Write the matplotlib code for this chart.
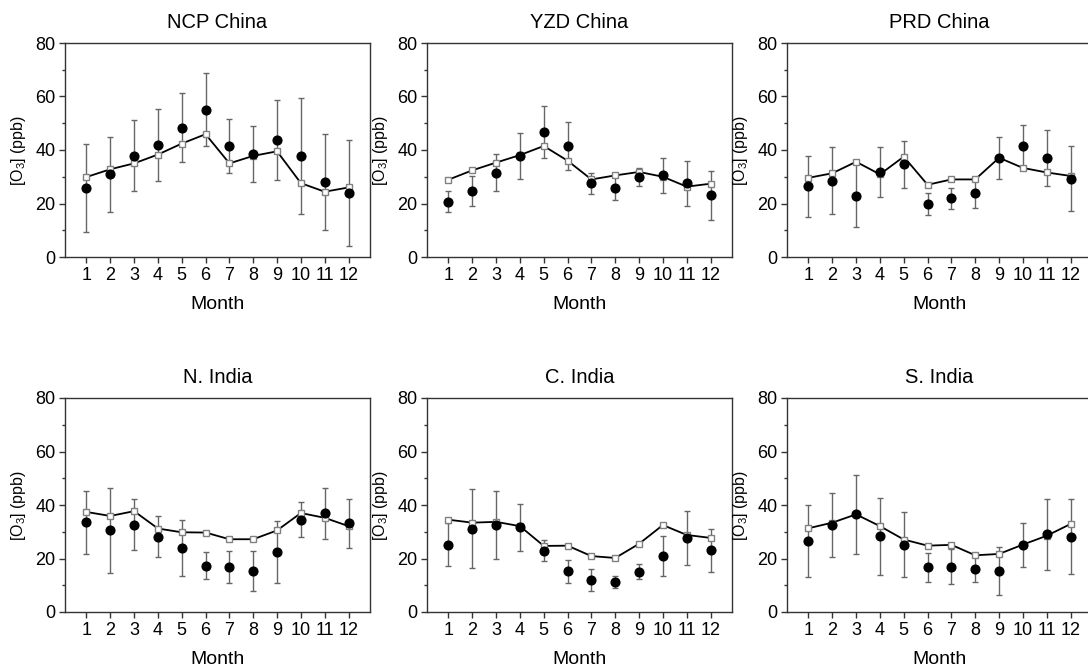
import matplotlib
matplotlib.use("Agg")
import matplotlib.pyplot as plt
from matplotlib.ticker import MultipleLocator

plt.rcParams['font.family'] = ['Liberation Sans', 'DejaVu Sans']
plt.rcParams['mathtext.fontset'] = 'custom'
plt.rcParams['mathtext.rm'] = 'Liberation Sans'
plt.rcParams['mathtext.it'] = 'Liberation Sans:italic'

months = list(range(1, 13))
regions = ["NCP China", "YZD China", "PRD China", "N. India", "C. India", "S. India"]

# observed monthly means (dots), their std (error bars) and model means (squares)
ncpObs = [25.9, 31.0, 37.9, 41.9, 48.4, 55.0, 41.5, 38.4, 43.6, 37.8, 28.0, 24.0]
ncpErr = [16.4, 14.0, 13.4, 13.4, 13.0, 13.6, 10.0, 10.4, 15.0, 21.6, 18.0, 19.9]
ncpModel = [29.9, 32.8, 35.0, 38.3, 42.4, 45.9, 35.0, 37.8, 39.5, 27.6, 24.4, 26.0]

yzdObs = [20.6, 24.5, 31.5, 37.8, 46.6, 41.4, 27.6, 25.9, 29.9, 30.5, 27.5, 23.0]
yzdErr = [3.9, 5.6, 7.0, 8.6, 9.7, 9.0, 3.9, 4.6, 3.5, 6.6, 8.5, 9.2]
yzdModel = [28.9, 32.4, 35.3, 38.1, 41.5, 36.0, 29.0, 30.5, 31.8, 30.0, 26.3, 27.4]

prdObs = [26.4, 28.5, 22.9, 31.8, 34.6, 19.9, 21.9, 24.0, 37.0, 41.6, 36.9, 29.3]
prdErr = [11.5, 12.5, 11.8, 9.2, 8.7, 4.1, 3.9, 5.6, 8.0, 7.8, 10.5, 12.2]
prdModel = [29.6, 31.3, 35.6, 30.9, 37.5, 27.0, 29.0, 29.0, 37.1, 33.3, 31.6, 30.3]

ninObs = [33.6, 30.5, 32.7, 28.2, 23.8, 17.3, 16.8, 15.2, 22.4, 34.5, 36.9, 33.1]
ninErr = [11.8, 15.9, 9.7, 7.8, 10.5, 5.0, 5.9, 7.5, 11.6, 6.6, 9.5, 9.2]
ninModel = [37.4, 35.9, 37.7, 31.2, 29.8, 29.7, 27.2, 27.2, 30.5, 37.0, 35.2, 32.1]

cinObs = [25.2, 31.1, 32.7, 31.7, 22.9, 15.2, 11.9, 11.2, 15.0, 20.9, 27.7, 23.1]
cinErr = [7.9, 14.8, 12.7, 8.8, 3.9, 4.3, 4.2, 2.3, 2.8, 7.6, 10.2, 8.0]
cinModel = [34.5, 33.4, 33.7, 32.1, 24.7, 24.8, 20.9, 20.2, 25.5, 32.5, 28.8, 27.7]

sinObs = [26.6, 32.4, 36.6, 28.3, 25.2, 16.7, 16.9, 16.1, 15.2, 25.2, 29.0, 28.1]
sinErr = [13.4, 12.0, 14.8, 14.3, 12.0, 5.4, 6.5, 4.7, 9.0, 8.2, 13.3, 14.0]
sinModel = [31.3, 33.4, 36.5, 32.1, 27.1, 24.8, 25.1, 21.2, 21.7, 25.2, 28.5, 32.9]

obsAll = [ncpObs, yzdObs, prdObs, ninObs, cinObs, sinObs]
errAll = [ncpErr, yzdErr, prdErr, ninErr, cinErr, sinErr]
modelAll = [ncpModel, yzdModel, prdModel, ninModel, cinModel, sinModel]

W, H = 1088, 670
fig = plt.figure(figsize=(W / 100, H / 100), dpi=100)

# panel boxes in pixels: left, top, width, height
colLeft = [65, 427, 787]
rowTop = [43, 398]
pw, ph = 305, 214

for i, name in enumerate(regions):
    left = colLeft[i % 3]
    top = rowTop[i // 3]
    ax = fig.add_axes([left / W, 1 - (top + ph) / H, pw / W, ph / H])

    ax.errorbar(months, obsAll[i], yerr=errAll[i], fmt='none', ecolor='#666666',
                elinewidth=1.0, capsize=2.5, capthick=1.0, zorder=2)
    ax.plot(months, modelAll[i], '-s', color='black', lw=1.3, ms=4,
            mfc='white', mec='#808080', mew=1.0, zorder=3)
    ax.plot(months, obsAll[i], 'o', color='black', ms=6.3, zorder=4)

    ax.set_xlim(0.1, 12.9)
    ax.set_ylim(0, 80)
    ax.set_xticks(months)
    ax.yaxis.set_major_locator(MultipleLocator(20))
    ax.yaxis.set_minor_locator(MultipleLocator(10))
    ax.tick_params(direction='out', length=4.5, width=1.0, labelsize=13, pad=2.5, color='#333333')
    ax.tick_params(axis='y', which='minor', direction='out', length=2.5, width=1.0, color='#333333')
    for sp in ax.spines.values():
        sp.set_color('#333333')
        sp.set_linewidth(1.0)

    ax.set_title(name, fontsize=14.5, pad=11)
    ax.set_xlabel("Month", fontsize=14, labelpad=9)
    ax.set_ylabel("[O$_3$] (ppb)", fontsize=11.5, labelpad=5)

plt.savefig("out.png", dpi=100)
